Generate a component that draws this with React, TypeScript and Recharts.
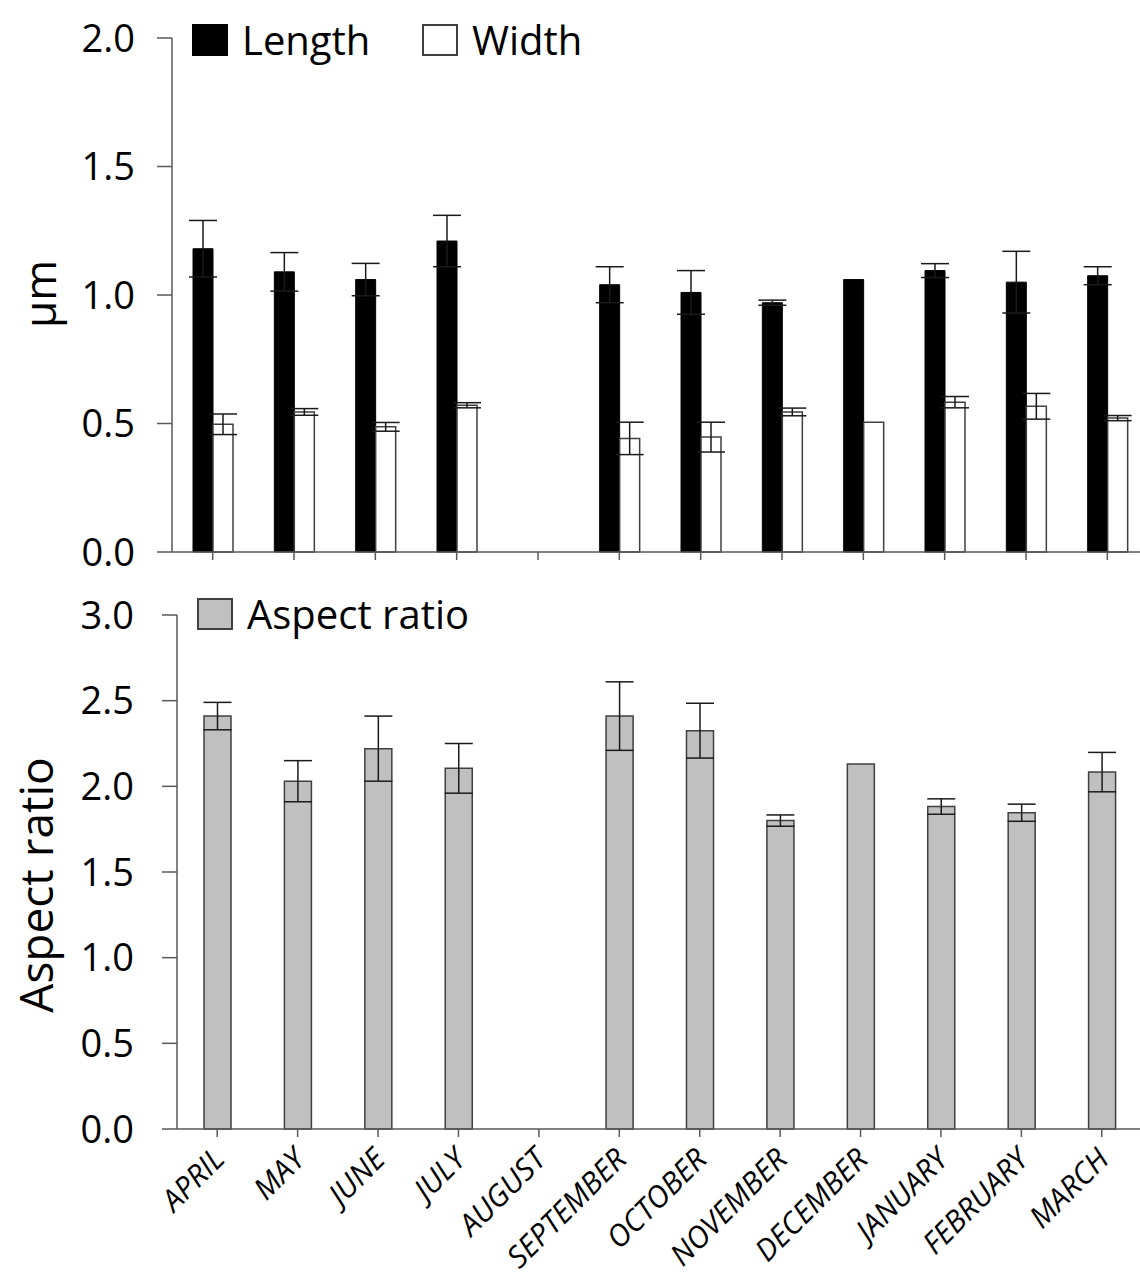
import React from "react"
import { BarChart, Bar, XAxis, YAxis, ErrorBar } from "recharts"

const months = ["APRIL", "MAY", "JUNE", "JULY", "AUGUST", "SEPTEMBER", "OCTOBER", "NOVEMBER", "DECEMBER", "JANUARY", "FEBRUARY", "MARCH"]

const lengthVals = [1.18, 1.09, 1.06, 1.21, null, 1.04, 1.01, 0.97, 1.06, 1.095, 1.05, 1.075]
const lengthErr = [0.11, 0.075, 0.063, 0.1, null, 0.07, 0.085, 0.01, null, 0.027, 0.12, 0.035]
const widthVals = [0.497, 0.545, 0.487, 0.571, null, 0.442, 0.447, 0.545, 0.505, 0.583, 0.567, 0.521]
const widthErr = [0.04, 0.013, 0.017, 0.01, null, 0.063, 0.058, 0.015, null, 0.022, 0.05, 0.01]
const ratioVals = [2.41, 2.03, 2.22, 2.105, null, 2.41, 2.325, 1.8, 2.13, 1.882, 1.846, 2.083]
const ratioErr = [0.08, 0.12, 0.19, 0.145, null, 0.2, 0.16, 0.033, null, 0.045, 0.05, 0.115]

const sizeTicks = [0, 0.5, 1, 1.5, 2]
const ratioTicks = [0, 0.5, 1, 1.5, 2, 2.5, 3]

const data = months.map((m, i) => ({
  month: m,
  length: lengthVals[i],
  lengthErr: lengthErr[i],
  width: widthVals[i],
  widthErr: widthErr[i],
  ratio: ratioVals[i],
  ratioErr: ratioErr[i],
}))

const FONT = "'Open Sans', 'Noto Sans', sans-serif"
const AXIS = "#595959"

const ValueTick = (props: any) => {
  const { x, y, payload } = props
  return (
    <text x={x} y={y} dy="0.36em" textAnchor="end" fontSize={38} fontFamily={FONT} fill="#000">
      {payload.value.toFixed(1)}
    </text>
  )
}

const MonthTick = (props: any) => {
  const { x, y, payload } = props
  return (
    <g transform={`translate(${x + 9},${y + 22}) rotate(-45)`}>
      <text textAnchor="end" fontSize={30} fontStyle="italic" fontFamily={FONT} fill="#000">
        {payload.value}
      </text>
    </g>
  )
}

const NoTick = () => <g />

const swatch = (bg: string, border: string) => ({
  position: "absolute" as const,
  width: 36,
  height: 32,
  background: bg,
  border: `2px solid ${border}`,
  boxSizing: "border-box" as const,
})

const legendBox = { position: "absolute" as const, fontFamily: FONT, fontSize: 40, lineHeight: "48px", color: "#000" }

const App = () => {
  return (
    <div style={{ position: "absolute", left: 0, top: 0, width: 1140, height: 1279, overflow: "hidden", background: "#fff" }}>
      <div style={{ position: "absolute", left: 0, top: 0 }}>
        <BarChart
          width={1160}
          height={592}
          data={data}
          barGap={0}
          margin={{ top: 38, right: 12, left: 0, bottom: 0 }}
        >
          <XAxis
            dataKey="month"
            interval={0}
            height={40}
            tick={NoTick}
            tickSize={8}
            axisLine={{ stroke: AXIS, strokeWidth: 1.5 }}
            tickLine={{ stroke: AXIS, strokeWidth: 1.5 }}
          />
          <YAxis
            width={172}
            domain={[0, 2]}
            ticks={sizeTicks}
            interval={0}
            tickSize={15}
            tickMargin={22}
            tick={ValueTick}
            axisLine={{ stroke: AXIS, strokeWidth: 1.5 }}
            tickLine={{ stroke: AXIS, strokeWidth: 1.5 }}
            label={{
              content: () => (
                <text x={40} y={294} transform="rotate(-90 40 294)" textAnchor="middle" dy="0.36em" fontSize={44} fontFamily={FONT} fill="#000">
                  µm
                </text>
              ),
            }}
          />
          <Bar dataKey="length" fill="#000" stroke="#000" barSize={20} isAnimationActive={false}>
            <ErrorBar dataKey="lengthErr" width={14} stroke="#1a1a1a" strokeWidth={1.5} />
          </Bar>
          <Bar dataKey="width" fill="#fff" stroke="#404040" strokeWidth={1.5} barSize={20} isAnimationActive={false}>
            <ErrorBar dataKey="widthErr" width={14} stroke="#1a1a1a" strokeWidth={1.5} />
          </Bar>
        </BarChart>
      </div>
      <div style={{ ...legendBox, left: 192, top: 16, width: 420, height: 50 }}>
        <div style={{ ...swatch("#000", "#000"), left: 0, top: 8 }} />
        <span style={{ position: "absolute", left: 50, top: 0 }}>Length</span>
        <div style={{ ...swatch("#fff", "#404040"), left: 230, top: 8 }} />
        <span style={{ position: "absolute", left: 280, top: 0 }}>Width</span>
      </div>
      <div style={{ position: "absolute", left: 0, top: 580 }}>
        <BarChart
          width={1160}
          height={699}
          data={data}
          margin={{ top: 35, right: 18, left: 0, bottom: 0 }}
        >
          <XAxis
            dataKey="month"
            interval={0}
            height={150}
            tick={MonthTick}
            tickSize={8}
            axisLine={{ stroke: AXIS, strokeWidth: 1.5 }}
            tickLine={{ stroke: AXIS, strokeWidth: 1.5 }}
          />
          <YAxis
            width={177}
            domain={[0, 3]}
            ticks={ratioTicks}
            interval={0}
            tickSize={15}
            tickMargin={28}
            tick={ValueTick}
            axisLine={{ stroke: AXIS, strokeWidth: 1.5 }}
            tickLine={{ stroke: AXIS, strokeWidth: 1.5 }}
            label={{
              content: () => (
                <text x={36} y={305} transform="rotate(-90 36 305)" textAnchor="middle" dy="0.36em" fontSize={46} fontFamily={FONT} fill="#000">
                  Aspect ratio
                </text>
              ),
            }}
          />
          <Bar dataKey="ratio" fill="#c0c0c0" stroke="#404040" strokeWidth={1.5} barSize={27} isAnimationActive={false}>
            <ErrorBar dataKey="ratioErr" width={14} stroke="#1a1a1a" strokeWidth={1.5} />
          </Bar>
        </BarChart>
      </div>
      <div style={{ ...legendBox, left: 197, top: 590, width: 320, height: 50 }}>
        <div style={{ ...swatch("#c0c0c0", "#404040"), left: 0, top: 8 }} />
        <span style={{ position: "absolute", left: 50, top: 0 }}>Aspect ratio</span>
      </div>
    </div>
  )
}

export default App
